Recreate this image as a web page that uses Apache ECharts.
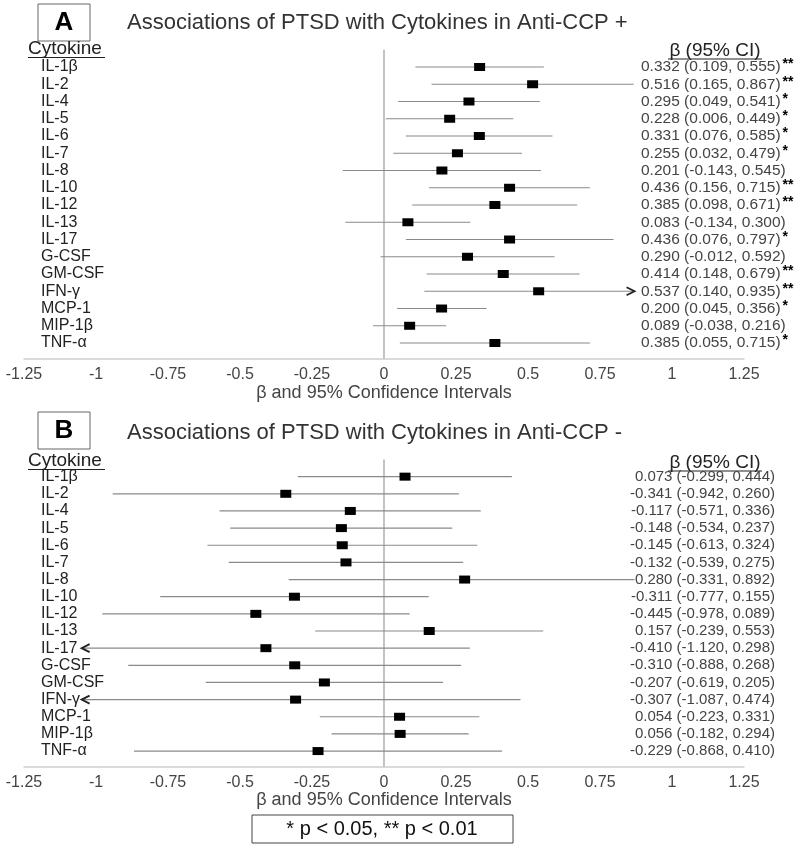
<!DOCTYPE html>
<html>
<head>
<meta charset="utf-8">
<script src="https://cdn.jsdelivr.net/npm/echarts@6/dist/echarts.min.js"></script>
<style>
html,body{margin:0;padding:0;background:#fff;}
#chart{width:800px;height:849px;}
</style>
</head>
<body>
<div id="chart"></div>
<script>
const cytokines = ['IL-1β','IL-2','IL-4','IL-5','IL-6','IL-7','IL-8','IL-10','IL-12','IL-13','IL-17','G-CSF','GM-CSF','IFN-γ','MCP-1','MIP-1β','TNF-α'];

const betaA  = [0.332,0.516,0.295,0.228,0.331,0.255,0.201,0.436,0.385,0.083,0.436,0.290,0.414,0.537,0.200,0.089,0.385];
const lowerA = [0.109,0.165,0.049,0.006,0.076,0.032,-0.143,0.156,0.098,-0.134,0.076,-0.012,0.148,0.140,0.045,-0.038,0.055];
const upperA = [0.555,0.867,0.541,0.449,0.585,0.479,0.545,0.715,0.671,0.300,0.797,0.592,0.679,0.935,0.356,0.216,0.715];
const starsA = ['**','**','*','*','*','*','','**','**','','*','','**','**','*','','*'];

const betaB  = [0.073,-0.341,-0.117,-0.148,-0.145,-0.132,0.280,-0.311,-0.445,0.157,-0.410,-0.310,-0.207,-0.307,0.054,0.056,-0.229];
const lowerB = [-0.299,-0.942,-0.571,-0.534,-0.613,-0.539,-0.331,-0.777,-0.978,-0.239,-1.120,-0.888,-0.619,-1.087,-0.223,-0.182,-0.868];
const upperB = [0.444,0.260,0.336,0.237,0.324,0.275,0.892,0.155,0.089,0.553,0.298,0.268,0.205,0.474,0.331,0.294,0.410];
const starsB = ['','','','','','','','','','','','','','','','',''];

const xTicks = [-1.25,-1,-0.75,-0.5,-0.25,0,0.25,0.5,0.75,1,1.25];
const zeroLine = [[0,-1],[0,16.9]];
const titleA = 'Associations of PTSD with Cytokines in Anti-CCP +';
const titleB = 'Associations of PTSD with Cytokines in Anti-CCP -';
const xName = 'β and 95% Confidence Intervals';
const footnote = '* p < 0.05, ** p < 0.01';
// plotted whiskers are truncated at these limits; an arrow marks intervals that run well past them
const clipMin = -1.05, clipMax = 0.87;
const arrowMin = -1.05, arrowMax = 0.9;

const FONT = 'Liberation Sans, Arial, Helvetica, sans-serif';
const chart = echarts.init(document.getElementById('chart'), null, {renderer:'canvas'});

function fmt(v){ return v.toFixed(3); }
function ciText(b, l, u, i){ return fmt(b[i]) + ' (' + fmt(l[i]) + ', ' + fmt(u[i]) + ')'; }

function buildData(b, l, u){
  return b.map((v, i) => [v, l[i], u[i], i]);
}

function renderItem(params, api){
  const est = api.value(0), lo = api.value(1), hi = api.value(2), idx = api.value(3);
  const loC = Math.max(lo, clipMin), hiC = Math.min(hi, clipMax);
  const pLo = api.coord([loC, idx]);
  const pHi = api.coord([hiC, idx]);
  const pE = api.coord([est, idx]);
  const children = [{
    type:'line', shape:{x1:pLo[0], y1:pLo[1], x2:pHi[0], y2:pHi[1]},
    style:{stroke:'#8a8a8a', lineWidth:1.2}
  }];
  if (hi > arrowMax) {
    children.push({type:'polyline', shape:{points:[[pHi[0]-8,pHi[1]-4],[pHi[0],pHi[1]],[pHi[0]-8,pHi[1]+4]]},
      style:{stroke:'#222', lineWidth:1.8, fill:null}});
  }
  if (lo < arrowMin) {
    children.push({type:'polyline', shape:{points:[[pLo[0]+8,pLo[1]-4],[pLo[0],pLo[1]],[pLo[0]+8,pLo[1]+4]]},
      style:{stroke:'#222', lineWidth:1.8, fill:null}});
  }
  children.push({type:'rect', shape:{x:pE[0]-5.5, y:pE[1]-4, width:11, height:8},
    style:{fill:'#000'}});
  return {type:'group', children};
}

function xAxisCfg(gi){
  return {
    gridIndex: gi, type:'value', min:-1.25, max:1.25, interval:0.25, position:'bottom',
    axisLine:{show:true, onZero:false, lineStyle:{color:'#cfcfcf', width:1.5}},
    axisTick:{show:false}, splitLine:{show:false},
    axisLabel:{color:'#444', fontSize:16, fontFamily:FONT, margin:8,
      formatter:(v)=> xTicks.includes(+v.toFixed(2)) ? String(+v.toFixed(2)) : ''},
    name:xName, nameLocation:'middle', nameGap:25,
    nameTextStyle:{color:'#444', fontSize:18, fontFamily:FONT}
  };
}
function yLeftCfg(gi){
  return {
    gridIndex: gi, type:'value', inverse:true, min:-1, max:16.9, interval:1,
    axisLine:{show:false, onZero:false}, axisTick:{show:false}, splitLine:{show:false},
    axisLabel:{inside:true, align:'left', margin:17, color:'#222', fontSize:16, fontFamily:FONT,
      formatter:(v)=> Number.isInteger(v) && cytokines[v] !== undefined ? cytokines[v] : ''}
  };
}
function yRightCfg(gi, b, l, u, s, alignLeft){
  return {
    gridIndex: gi, type:'value', inverse:true, min:-1, max:16.9, interval:1, position:'right',
    offset: alignLeft ? 0 : 31,
    axisLine:{show:false, onZero:false}, axisTick:{show:false}, splitLine:{show:false},
    axisLabel:{inside:true, align: alignLeft ? 'left' : 'right', margin: alignLeft ? 103 : 0,
      formatter:(v)=> {
        if (!Number.isInteger(v) || b[v] === undefined) return '';
        const t = '{v|' + ciText(b, l, u, v) + '}';
        return s[v] ? t + '{s|' + s[v] + '}' : t;
      },
      rich:{
        v:{color:'#444', fontSize: alignLeft ? 15.5 : 15, fontFamily:FONT},
        s:{color:'#000', fontSize:14, fontWeight:'bold', fontFamily:FONT, padding:[0,0,5,2]}
      }
    }
  };
}

function headerGraphics(boxTop, letter, headY){
  return [
    {type:'rect', shape:{x:38, y:boxTop, width:52, height:37}, style:{fill:'#fff', stroke:'#666', lineWidth:1}},
    {type:'text', x:64, y:boxTop+19, style:{text:letter, fontSize:26, fontWeight:'bold', fill:'#000',
      fontFamily:FONT, textAlign:'center', textVerticalAlign:'middle'}},
    {type:'text', x:28, y:headY-1, style:{text:'Cytokine', fontSize:19, fill:'#222', fontFamily:FONT,
      textAlign:'left', textVerticalAlign:'middle'}},
    {type:'line', shape:{x1:28, y1:headY+7.5, x2:105, y2:headY+7.5}, style:{stroke:'#222', lineWidth:1.2}},
    {type:'text', x:715, y:headY+1, style:{text:'β (95% CI)', fontSize:19, fill:'#222', fontFamily:FONT,
      textAlign:'center', textVerticalAlign:'middle'}},
    {type:'line', shape:{x1:668, y1:headY+9, x2:762, y2:headY+9}, style:{stroke:'#222', lineWidth:1.2}}
  ];
}

function zeroSeries(xi, yi){
  return {type:'line', xAxisIndex:xi, yAxisIndex:yi, data:zeroLine, symbol:'none', silent:true, z:1,
    lineStyle:{color:'#9a9a9a', width:1.2}};
}

const option = {
  backgroundColor:'#fff',
  animation:false,
  title:[
    {text:titleA, left:127, top:12, padding:0, textStyle:{color:'#333', fontSize:22, fontWeight:'normal', fontFamily:FONT}},
    {text:titleB, left:127, top:422, padding:0, textStyle:{color:'#333', fontSize:22, fontWeight:'normal', fontFamily:FONT}}
  ],
  grid:[
    {left:24, right:56, top:49.75, height:308.8},
    {left:24, right:56, top:459.5, height:307}
  ],
  xAxis:[xAxisCfg(0), xAxisCfg(1)],
  yAxis:[
    yLeftCfg(0),
    yRightCfg(0, betaA, lowerA, upperA, starsA, true),
    yLeftCfg(1),
    yRightCfg(1, betaB, lowerB, upperB, starsB, false)
  ],
  series:[
    zeroSeries(0, 0),
    zeroSeries(1, 2),
    {type:'custom', xAxisIndex:0, yAxisIndex:0, renderItem, data:buildData(betaA, lowerA, upperA),
      encode:{x:[0,1,2], y:3}, clip:false, z:3},
    {type:'custom', xAxisIndex:1, yAxisIndex:2, renderItem, data:buildData(betaB, lowerB, upperB),
      encode:{x:[0,1,2], y:3}, clip:false, z:3}
  ],
  graphic:[
    ...headerGraphics(4, 'A', 50),
    ...headerGraphics(412, 'B', 462),
    {type:'rect', shape:{x:252, y:815, width:261, height:28}, style:{fill:'#fff', stroke:'#444', lineWidth:1}},
    {type:'text', x:382, y:829.5, style:{text:footnote, fontSize:20, fill:'#111', fontFamily:FONT,
      textAlign:'center', textVerticalAlign:'middle'}}
  ]
};
chart.setOption(option);
</script>
</body>
</html>
